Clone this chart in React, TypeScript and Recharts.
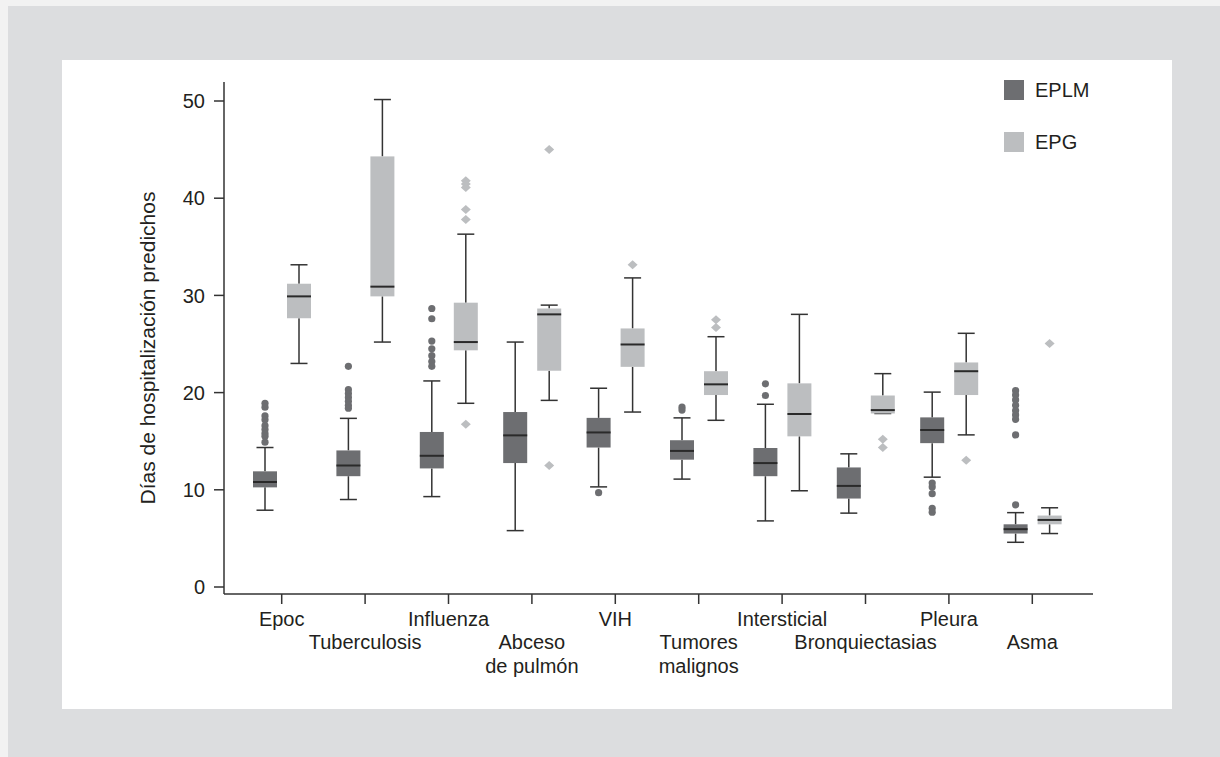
import { ComposedChart, Bar, XAxis, YAxis, Legend } from 'recharts';

const FONT = '"Liberation Sans", Arial, Helvetica, sans-serif';
const INK = '#231f20';
const LINE = '#333333';
const DARK = '#6d6e71';
const LIGHT = '#bcbec0';

const categories = [
  'Epoc',
  'Tuberculosis',
  'Influenza',
  'Abceso\nde pulmón',
  'VIH',
  'Tumores\nmalignos',
  'Intersticial',
  'Bronquiectasias',
  'Pleura',
  'Asma',
];

const seriesOrder = ['EPLM', 'EPG'];
const yTicks = [0, 10, 20, 30, 40, 50];

// EPLM (dark boxes)
const eplmMin = [7.9, 9.0, 9.3, 5.8, 10.3, 11.1, 6.8, 7.6, 11.3, 4.6];
const eplmQ1 = [10.25, 11.4, 12.2, 12.75, 14.35, 13.1, 11.4, 9.1, 14.8, 5.5];
const eplmMedian = [10.8, 12.5, 13.5, 15.6, 15.9, 14.0, 12.75, 10.4, 16.15, 5.95];
const eplmQ3 = [11.9, 14.05, 15.95, 18.0, 17.4, 15.1, 14.3, 12.3, 17.45, 6.45];
const eplmMax = [14.35, 17.35, 21.2, 25.2, 20.45, 17.4, 18.8, 13.7, 20.05, 7.65];
const eplmOutliers = [
  [18.9, 18.5, 17.6, 17.2, 16.6, 16.2, 15.8, 15.5, 14.9],
  [22.7, 20.3, 19.9, 19.5, 19.1, 18.7, 18.4],
  [28.65, 27.6, 25.3, 24.5, 23.8, 23.2, 22.7],
  [],
  [9.7],
  [18.5, 18.2],
  [20.9, 19.7],
  [],
  [10.7, 10.3, 9.6, 8.1, 7.7],
  [20.2, 19.75, 19.25, 18.7, 18.15, 17.7, 17.25, 15.65, 8.45],
];

// EPG (light boxes)
const epgMin = [23.0, 25.2, 18.9, 19.2, 18.0, 17.15, 9.9, 17.85, 15.65, 5.5];
const epgQ1 = [27.65, 29.9, 24.35, 22.25, 22.65, 19.75, 15.5, 17.85, 19.75, 6.45];
const epgMedian = [29.9, 30.9, 25.2, 28.05, 24.95, 20.85, 17.8, 18.2, 22.2, 6.9];
const epgQ3 = [31.2, 44.3, 29.25, 28.65, 26.6, 22.2, 20.95, 19.7, 23.1, 7.35];
const epgMax = [33.15, 50.15, 36.3, 29.0, 31.8, 25.75, 28.05, 21.95, 26.1, 8.15];
const epgOutliers = [
  [],
  [],
  [41.8, 41.45, 41.1, 38.85, 37.8, 16.75],
  [45.0, 12.5],
  [33.15],
  [27.5, 26.7],
  [],
  [15.2, 14.35],
  [13.05],
  [25.05],
];

const data = categories.map((name, i) => ({
  name,
  eplm: { min: eplmMin[i], q1: eplmQ1[i], med: eplmMedian[i], q3: eplmQ3[i], max: eplmMax[i], out: eplmOutliers[i] },
  epg: { min: epgMin[i], q1: epgQ1[i], med: epgMedian[i], q3: epgQ3[i], max: epgMax[i], out: epgOutliers[i] },
}));

// box shape: the bar spans q1..q3, everything else is mapped from that span
function makeBox(key: 'eplm' | 'epg', color: string, marker: 'circle' | 'diamond') {
  return (props: any) => {
    const { x, y, width, height, payload } = props;
    const s = payload[key];
    const top = Math.min(y, y + height);
    const bot = Math.max(y, y + height);
    const k = (bot - top) / (s.q3 - s.q1);
    const py = (v: number) => bot - (v - s.q1) * k;
    const cx = x + width / 2;
    const cap = 8.5;
    return (
      <g>
        <line x1={cx} x2={cx} y1={py(s.max)} y2={top} stroke={LINE} strokeWidth={1.5} />
        <line x1={cx - cap} x2={cx + cap} y1={py(s.max)} y2={py(s.max)} stroke={LINE} strokeWidth={1.5} />
        <line x1={cx} x2={cx} y1={bot} y2={py(s.min)} stroke={LINE} strokeWidth={1.5} />
        <line x1={cx - cap} x2={cx + cap} y1={py(s.min)} y2={py(s.min)} stroke={LINE} strokeWidth={1.5} />
        <rect x={x} y={top} width={width} height={bot - top} fill={color} />
        <line x1={x} x2={x + width} y1={py(s.med)} y2={py(s.med)} stroke="#2a2a2a" strokeWidth={2} />
        {s.out.map((v: number, j: number) =>
          marker === 'circle' ? (
            <circle key={j} cx={cx} cy={py(v)} r={3.6} fill={color} />
          ) : (
            <path
              key={j}
              d={`M${cx},${py(v) - 4.5}L${cx + 5},${py(v)}L${cx},${py(v) + 4.5}L${cx - 5},${py(v)}Z`}
              fill={color}
            />
          ),
        )}
      </g>
    );
  };
}

const XTick = (props: any) => {
  const { x, y, payload } = props;
  const idx = categories.indexOf(payload.value);
  const lines = String(payload.value).split('\n');
  const base = y + 20 + (idx % 2) * 23;
  return (
    <text x={x} y={base} textAnchor="middle" fill={INK} fontSize={20} fontFamily={FONT}>
      {lines.map((l, i) => (
        <tspan key={i} x={x} dy={i ? 24 : 0}>
          {l}
        </tspan>
      ))}
    </text>
  );
};

const YLabel = (props: any) => {
  const vb = props.viewBox;
  const cx = vb.x + 155;
  const cy = vb.y + vb.height / 2 + 10;
  return (
    <text
      x={cx}
      y={cy}
      transform={`rotate(-90 ${cx} ${cy})`}
      textAnchor="middle"
      fill={INK}
      fontSize={21}
      fontFamily={FONT}
    >
      Días de hospitalización predichos
    </text>
  );
};

const renderLegend = (props: any) => {
  const items = [...props.payload].sort(
    (a: any, b: any) => seriesOrder.indexOf(a.value) - seriesOrder.indexOf(b.value),
  );
  return (
    <div style={{ fontFamily: FONT, fontSize: 20, color: INK }}>
      {items.map((e: any, i: number) => (
        <div
          key={e.value}
          style={{ display: 'flex', alignItems: 'center', height: 20, marginBottom: i === 0 ? 32 : 0 }}
        >
          <span style={{ display: 'inline-block', width: 20, height: 20, background: e.color, marginRight: 11 }} />
          {e.value}
        </div>
      ))}
    </div>
  );
};

export default function App() {
  return (
    <div style={{ position: 'absolute', left: 0, top: 0, width: 1220, height: 757, background: '#f2f2f2' }}>
      <div style={{ position: 'absolute', left: 8, top: 6, right: 0, bottom: 0, background: '#dcdddf' }} />
      <div style={{ position: 'absolute', left: 62, top: 60, width: 1110, height: 649, background: '#ffffff' }} />
      <div style={{ position: 'absolute', left: 0, top: 0 }}>
        <ComposedChart
          width={1220}
          height={757}
          data={data}
          margin={{ top: 82, right: 127, bottom: 83, left: 0 }}
          barGap={10}
          barSize={24}
        >
          <XAxis
            dataKey="name"
            interval={0}
            padding={{ left: 16, right: 19 }}
            height={80}
            tickSize={10}
            tickMargin={2}
            axisLine={{ stroke: LINE, strokeWidth: 1.5 }}
            tickLine={{ stroke: LINE, strokeWidth: 1.5 }}
            tick={<XTick />}
          />
          <YAxis
            domain={[0, 50]}
            ticks={yTicks}
            width={224}
            padding={{ top: 19, bottom: 7 }}
            tickSize={10}
            tickMargin={9}
            axisLine={{ stroke: LINE, strokeWidth: 1.5 }}
            tickLine={{ stroke: LINE, strokeWidth: 1.5 }}
            tick={{ fill: INK, fontSize: 20, fontFamily: FONT }}
            label={<YLabel />}
          />
          <Legend
            layout="vertical"
            align="center"
            verticalAlign="middle"
            wrapperStyle={{ left: 1004, top: 80, width: 'auto', height: 'auto' }}
            content={renderLegend}
          />
          <Bar
            name="EPLM"
            dataKey={(d: any) => [d.eplm.q1, d.eplm.q3]}
            fill={DARK}
            shape={makeBox('eplm', DARK, 'circle')}
            isAnimationActive={false}
          />
          <Bar
            name="EPG"
            dataKey={(d: any) => [d.epg.q1, d.epg.q3]}
            fill={LIGHT}
            shape={makeBox('epg', LIGHT, 'diamond')}
            isAnimationActive={false}
          />
        </ComposedChart>
      </div>
    </div>
  );
}
